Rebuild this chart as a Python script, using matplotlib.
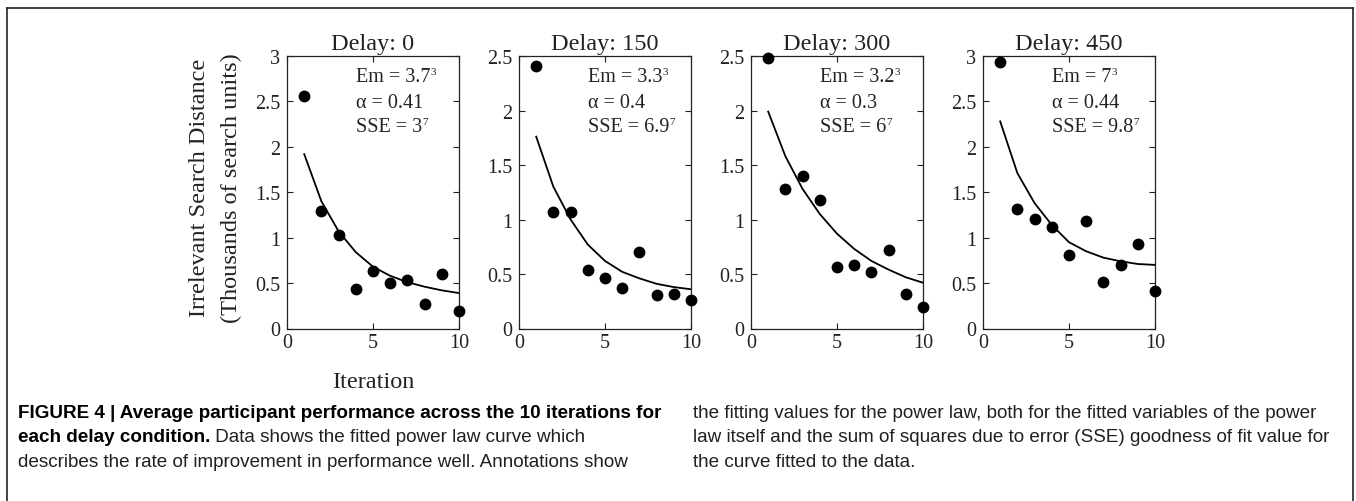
import matplotlib
matplotlib.use('Agg')
import matplotlib.pyplot as plt
from matplotlib.lines import Line2D
from matplotlib.ticker import FuncFormatter

plt.rcParams['font.family'] = ['Liberation Serif', 'DejaVu Serif']

# data
iterations = [1, 2, 3, 4, 5, 6, 7, 8, 9, 10]
delays = [0, 150, 300, 450]
obs_d0 = [2.56, 1.29, 1.03, 0.44, 0.63, 0.50, 0.53, 0.27, 0.60, 0.19]
obs_d150 = [2.41, 1.07, 1.07, 0.54, 0.46, 0.37, 0.70, 0.31, 0.32, 0.26]
obs_d300 = [2.48, 1.28, 1.40, 1.18, 0.56, 0.58, 0.52, 0.72, 0.32, 0.20]
obs_d450 = [2.93, 1.32, 1.21, 1.12, 0.81, 1.18, 0.51, 0.70, 0.93, 0.41]
fit_d0 = [1.92, 1.40, 1.07, 0.84, 0.68, 0.58, 0.51, 0.46, 0.42, 0.39]
fit_d150 = [1.76, 1.30, 1.00, 0.77, 0.62, 0.52, 0.46, 0.41, 0.38, 0.36]
fit_d300 = [1.99, 1.58, 1.28, 1.05, 0.87, 0.73, 0.62, 0.54, 0.47, 0.42]
fit_d450 = [2.28, 1.71, 1.38, 1.14, 0.95, 0.85, 0.78, 0.74, 0.71, 0.70]
em_vals = ['3.7', '3.3', '3.2', '7']
alpha_vals = ['0.41', '0.4', '0.3', '0.44']
sse_vals = ['3', '6.9', '6', '9.8']
ymax_vals = [3, 2.5, 2.5, 3]

observed = [obs_d0, obs_d150, obs_d300, obs_d450]
fitted = [fit_d0, fit_d150, fit_d300, fit_d450]

W, H = 1356, 502
fig = plt.figure(figsize=(W / 100, H / 100), dpi=100)
renderer = fig.canvas.get_renderer()
ink = '#222222'

lefts = [287, 519, 751, 983]
ax_w = 172
ax_bottom = (H - 329.5) / H
ax_h = 272.5 / H

fmt = FuncFormatter(lambda v, p: '%g' % v)


def text_with_sup(ax, x, y, base, sup):
    t = ax.text(x, y, base, transform=ax.transAxes, fontsize=14.5,
                va='center', ha='left', color=ink)
    bb = t.get_window_extent(renderer)
    fig.text((bb.x1 + 0.5) / W, (bb.y1 + 0.5) / H, sup, fontsize=8,
             va='top', ha='left', color=ink)


for i in range(4):
    ax = fig.add_axes([lefts[i] / W, ax_bottom, ax_w / W, ax_h])
    ax.plot(iterations, fitted[i], color='black', lw=1.3, zorder=2)
    ax.plot(iterations, observed[i], 'o', color='black', ms=7.5,
            clip_on=False, zorder=3)
    ax.set_xlim(0, 10)
    ax.set_ylim(0, ymax_vals[i])
    ax.set_xticks([0, 5, 10])
    step = 0.5
    n = int(round(ymax_vals[i] / step))
    ax.set_yticks([k * step for k in range(n + 1)])
    ax.xaxis.set_major_formatter(fmt)
    ax.yaxis.set_major_formatter(fmt)
    ax.tick_params(direction='in', top=True, right=True, length=4,
                   width=0.8, labelsize=14.5, colors=ink)
    ax.tick_params(axis='y', pad=5)
    ax.tick_params(axis='x', pad=3)
    for s in ax.spines.values():
        s.set_linewidth(0.9)
        s.set_color(ink)
    ax.set_title('Delay: %d' % delays[i], fontsize=17.5, pad=5, color=ink)
    text_with_sup(ax, 0.4, 0.923, 'Em = %s' % em_vals[i], '3')
    ax.text(0.4, 0.83, 'α = %s' % alpha_vals[i], transform=ax.transAxes,
            fontsize=14.5, va='center', ha='left', color=ink)
    text_with_sup(ax, 0.4, 0.74, 'SSE = %s' % sse_vals[i], '7')
    if i == 0:
        ax.set_xlabel('Iteration', fontsize=17.5, labelpad=14, color=ink)

fig.text(215.5 / W, (H - 188) / H,
         'Irrelevant Search Distance\n(Thousands of search units)',
         rotation=90, ha='center', va='center', fontsize=17.5,
         linespacing=1.65, multialignment='center', color=ink)

# frame around the figure
frame_kw = dict(color=ink, lw=1.2, transform=fig.transFigure)
fig.add_artist(Line2D([7 / W, 7 / W], [0, 1 - 9 / H], **frame_kw))
fig.add_artist(Line2D([7 / W, 1353 / W], [1 - 9 / H, 1 - 9 / H], **frame_kw))
fig.add_artist(Line2D([1353 / W, 1353 / W], [0, 1 - 9 / H], **frame_kw))

# caption
cap_font = ['Liberation Sans', 'DejaVu Sans']
cap_size = 13.6
cap_y = [1 - 413 / H, 1 - 438 / H, 1 - 463 / H]
cap_col = '#231f20'

fig.text(18 / W, cap_y[0],
         'FIGURE 4 | Average participant performance across the 10 iterations for',
         family=cap_font, fontsize=cap_size, fontweight='bold', va='center')
bold_part = fig.text(18 / W, cap_y[1], 'each delay condition.',
                     family=cap_font, fontsize=cap_size, fontweight='bold',
                     va='center')
bb = bold_part.get_window_extent(renderer)
fig.text(bb.x1 / W, cap_y[1], ' Data shows the fitted power law curve which',
         family=cap_font, fontsize=cap_size, va='center', color=cap_col)
fig.text(18 / W, cap_y[2],
         'describes the rate of improvement in performance well. Annotations show',
         family=cap_font, fontsize=cap_size, va='center', color=cap_col)

right_lines = [
    'the fitting values for the power law, both for the fitted variables of the power',
    'law itself and the sum of squares due to error (SSE) goodness of fit value for',
    'the curve fitted to the data.',
]
for k, line in enumerate(right_lines):
    fig.text(693 / W, cap_y[k], line, family=cap_font, fontsize=cap_size,
             va='center', color=cap_col)

fig.savefig('out.png', dpi=100, facecolor='white')
